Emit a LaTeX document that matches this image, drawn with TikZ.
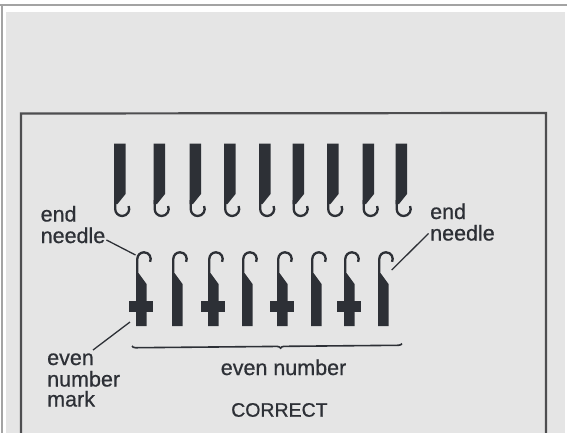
\documentclass[tikz,border=0pt]{standalone}
\usepackage{fontspec}
\setmainfont{Liberation Sans}
\newfontfamily\lblfont{Liberation Sans}[FakeBold=0.7]
\usetikzlibrary{decorations.pathreplacing,calc}
\definecolor{framegray}{RGB}{163,163,163}
\definecolor{paper}{RGB}{229,229,229}
\definecolor{ink}{RGB}{45,48,54}
\definecolor{boxline}{RGB}{78,78,80}
\tikzset{
  lbl/.style={font=\lblfont\fontsize{21.5}{21.5}\selectfont, text=ink, inner sep=0pt, anchor=base west},
  leader/.style={draw=ink, line width=1.3pt},
  hookline/.style={draw=ink, line width=2.3pt},
  upneedle/.pic={
    \fill[ink] (0,143.5) -- (11.5,143.5) -- (11.5,194) -- (3.5,204) -- (0,204) -- cycle;
    \draw[hookline] (1.2,200) -- (1.2,209) arc[start angle=180, end angle=-25, radius=7];
  },
  lowneedle/.pic={
    \fill[ink] (0,326) -- (10.5,326) -- (10.5,284) -- (2.5,273) -- (0,273) -- cycle;
    \draw[hookline] (1.3,277) -- (1.3,259) arc[start angle=180, end angle=385, radius=6.7];
    \coordinate (-hookL) at (-0.5,255);
    \coordinate (-hookR) at (13.7,270);
    \coordinate (-foot) at (-6,322);
  },
  markneedle/.pic={
    \pic {lowneedle};
    \fill[ink] (-7.3,301) rectangle (17,312);
    \coordinate (-hookL) at (-0.5,255);
    \coordinate (-hookR) at (13.7,270);
    \coordinate (-foot) at (-6,322);
  }
}
\begin{document}
\begin{tikzpicture}[x=1pt,y=-1pt]
\useasboundingbox (0,0) rectangle (567,433);
\clip (0,0) rectangle (567,433);
\fill[white] (0,0) rectangle (567,433);
\fill[framegray] (0,4) rectangle (567,6.5);
\fill[framegray] (0.5,4) rectangle (3.2,433);
\fill[paper] (6,12) rectangle (565,433);
\draw[boxline, line width=2.2pt] (21,440) -- (21,113.5) -- (546,113) -- (546,440);

% upper needles
\foreach \x [count=\i] in {114,153.5,189.5,224,259,292.5,327,362.5,395.5}
  \pic (u\i) at (\x,0) {upneedle};

% lower needles
\pic (n1) at (136,0) {markneedle};
\pic (n2) at (172,0) {lowneedle};
\pic (n3) at (208,0) {markneedle};
\pic (n4) at (242,0) {lowneedle};
\pic (n5) at (277,0) {markneedle};
\pic (n6) at (311,0) {lowneedle};
\pic (n7) at (344,0) {markneedle};
\pic (n8) at (378,0) {lowneedle};

% labels
\node[lbl] (endL) at (40.5,221.5) {end};
\node[lbl] (needleL) at (40.5,243) {needle};
\node[lbl] (endR) at (430,219) {end};
\node[lbl] (needleR) at (430,240.5) {needle};
\node[lbl] (evenM) at (47,365) {even};
\node[lbl] (numberM) at (47,386.5) {number};
\node[lbl] (markM) at (47,406.5) {mark};
\node[lbl] (evennum) at (220.6,375) {even number};
\node[lbl, font=\lblfont\fontsize{19.5}{19.5}\selectfont] (correct) at (231,416.7) {CORRECT};

% leaders
\draw[leader] ([xshift=1pt,yshift=3pt]needleL.base east) -- (n1-hookL);
\draw[leader] ([xshift=-1.5pt,yshift=7pt]needleR.base west) -- (n8-hookR);
\draw[leader] ([xshift=-1pt,yshift=15pt]evenM.base east) -- (n1-foot);

% brace
\coordinate (bL) at (132,346);
\coordinate (bR) at (402,343.5);
\draw[ink, line width=1.6pt, decorate, decoration={brace, amplitude=3.5pt, aspect=0.55, mirror}] (bL) -- (bR);
\end{tikzpicture}
\end{document}
